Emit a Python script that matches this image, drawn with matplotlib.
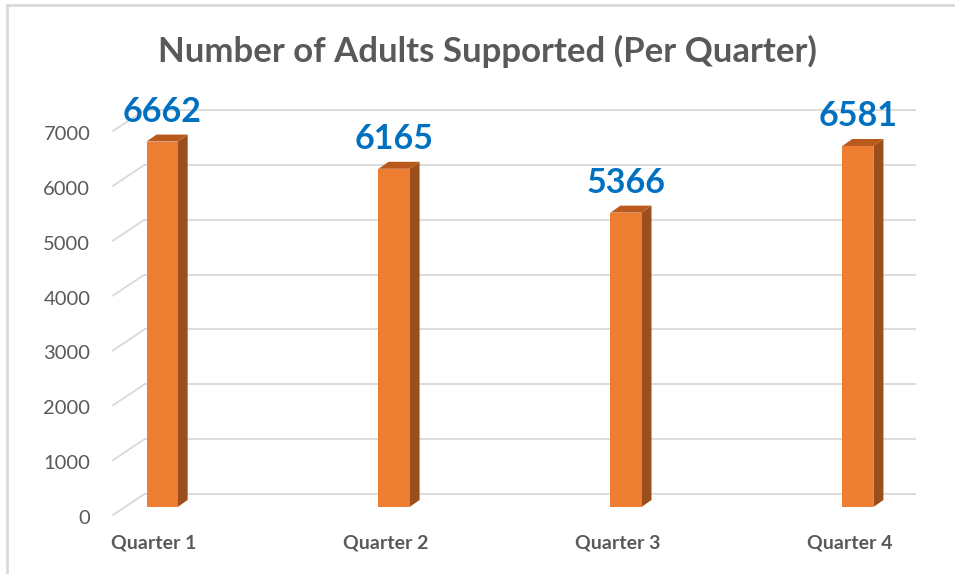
import matplotlib.pyplot as plt
from matplotlib.patches import Polygon
from matplotlib.lines import Line2D
from matplotlib.transforms import ScaledTranslation

quarters = ["Quarter 1", "Quarter 2", "Quarter 3", "Quarter 4"]
adults = [6662, 6165, 5366, 6581]
yticks = [0, 1000, 2000, 3000, 4000, 5000, 6000, 7000]

FRONT = "#ED7D31"
SIDE = "#9C4F1C"
TOP = "#B9591C"
GREY = "#595959"
GRID = "#D9D9D9"

plt.rcParams['font.family'] = ['Lato', 'DejaVu Sans']

W, H, DPI = 955, 574, 100
fig = plt.figure(figsize=(W / DPI, H / DPI), dpi=DPI)

# axes = plane of the bar fronts, in pixel terms
left_px, right_px, bottom_px, top_px = 125, 895, 507, 123
ax = fig.add_axes([left_px / W, (H - bottom_px) / H,
                   (right_px - left_px) / W, (bottom_px - top_px) / H])
ax.set_xlim(-0.16, 3.16)
ax.set_ylim(0, 7000)
for s in ax.spines.values():
    s.set_visible(False)
ax.patch.set_alpha(0)

# px -> data units
px_x = 3.32 / (right_px - left_px)
px_y = 7000 / (bottom_px - top_px)


def px(dx, dy):
    return dx * px_x, -dy * px_y


# back wall gridlines + slanted floor/side lines
xl, xr = ax.get_xlim()
bx, by = px(19.5, -13)
fx, fy = px(-12, 8)
for v in yticks:
    ax.plot([xl + bx, xr + bx], [v + by, v + by], color=GRID, lw=1.3,
            zorder=0, clip_on=False)
    ax.plot([xl + fx, xl + bx], [v + fy, v + by], color=GRID, lw=1.3,
            zorder=0, clip_on=False)

# bars with a little depth
x = list(range(len(quarters)))
w = 0.134
ax.bar(x, adults, width=w, color=FRONT, zorder=3)
dx, dy = px(10, -7)
for xi, v in zip(x, adults):
    a, b = xi - w / 2, xi + w / 2
    side = Polygon([(b, 0), (b + dx, dy), (b + dx, v + dy), (b, v)],
                   closed=True, fc=SIDE, ec='none', zorder=2, clip_on=False)
    top = Polygon([(a, v), (a + dx, v + dy), (b + dx, v + dy), (b, v)],
                  closed=True, fc=TOP, ec='none', zorder=2, clip_on=False)
    ax.add_patch(side)
    ax.add_patch(top)
    ax.annotate(str(v), (xi, v), xytext=(0, 20 * 0.72), textcoords='offset points',
                ha='center', va='baseline', color="#0070C0", fontsize=24.5,
                fontweight='bold')

ax.set_yticks(yticks)
ax.set_yticklabels([str(t) for t in yticks])
ax.set_xticks(x)
ax.set_xticklabels(quarters)
ax.tick_params(axis='y', length=0, pad=25, labelsize=14.5, labelcolor=GREY)
ax.tick_params(axis='x', length=0, pad=20, labelsize=14, labelcolor=GREY)
for lab in ax.get_yticklabels():
    lab.set_transform(lab.get_transform() +
                      ScaledTranslation(0, -10 / DPI, fig.dpi_scale_trans))
for lab in ax.get_xticklabels():
    lab.set_fontweight('bold')
    lab.set_transform(lab.get_transform() +
                      ScaledTranslation(-8 / DPI, 0, fig.dpi_scale_trans))

fig.text(487 / W, 1 - 51 / H, "Number of Adults Supported (Per Quarter)",
         ha='center', va='center', fontsize=25, fontweight='bold', color=GREY)

# chart frame (top and left edges)
fig.add_artist(Line2D([7 / W, 7 / W], [0, 1 - 5 / H], transform=fig.transFigure,
                      color=GRID, lw=2))
fig.add_artist(Line2D([7 / W, 1], [1 - 5 / H, 1 - 5 / H], transform=fig.transFigure,
                      color=GRID, lw=2))

fig.savefig("out.png", dpi=DPI)
